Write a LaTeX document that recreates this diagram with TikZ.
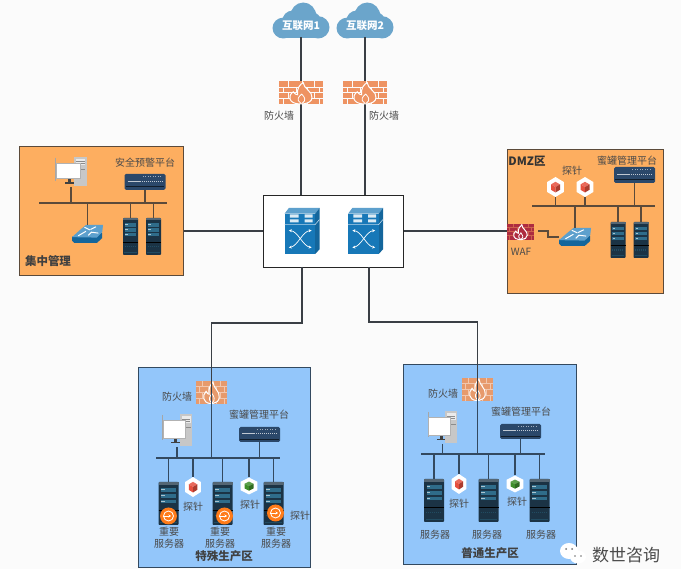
\documentclass[tikz,border=0pt]{standalone}
\usepackage{fontspec}
\setmainfont{Noto Sans CJK SC}
\definecolor{pagebg}{HTML}{FBFBFB}
\definecolor{orz}{HTML}{FDAE60}
\definecolor{orzline}{HTML}{5B4A3A}
\definecolor{blz}{HTML}{93C6FA}
\definecolor{blzline}{HTML}{33495F}
\definecolor{wire}{HTML}{3A3F45}
\definecolor{txt}{HTML}{4A4A4A}
\definecolor{cloudc}{HTML}{6BA5CB}
\definecolor{brickO}{HTML}{EE9362}
\definecolor{brickZ}{HTML}{E79A6C}
\definecolor{brickR}{HTML}{AE2C40}
\definecolor{swblue}{HTML}{1778B8}
\definecolor{srvdark}{HTML}{1B3345}
\definecolor{srvpanel}{HTML}{2F6C8A}
\definecolor{hubc}{HTML}{2B486A}
\definecolor{prR}{HTML}{E5503F}
\definecolor{prG}{HTML}{3F8F2B}
\usetikzlibrary{arrows.meta}
\newcommand{\iconat}[6]{%
  \node[iconspot,minimum width=#5pt,minimum height=#6pt] (#1) at (#3,#4) {};
  \pic[xscale=#5/2,yscale=#6/2] at (#1) {#2};}
\tikzset{
  x=1pt,y=-1pt,
  iconspot/.style={inner sep=0pt,outer sep=0pt,draw=none},
  orzone/.style={draw=orzline,line width=1.3pt,fill=orz,inner sep=0pt,anchor=north west},
  blzone/.style={draw=blzline,line width=1.3pt,fill=blz,inner sep=0pt,anchor=north west},
  corebox/.style={draw=black!85,line width=1.2pt,fill=white,inner sep=0pt,anchor=north west},
  link/.style={draw=wire,line width=1.6pt},
  tap/.style={draw=#1,line width=1.6pt},
  tap/.default=orzline,
  label/.style={text=txt,inner sep=0pt,font=\fontsize{10}{12}\selectfont},
  zonetitle/.style={text=black!75,inner sep=0pt,font=\fontsize{11.5}{13}\selectfont\bfseries},
  pics/cloudicon/.style={code={
    \fill[cloudc] (-.62,.3) rectangle (.62,1);
    \fill[cloudc] (-.62,.42) ellipse [x radius=.38, y radius=.58];
    \fill[cloudc] (.6,.38) ellipse [x radius=.4, y radius=.62];
    \fill[cloudc] (.08,-.22) ellipse [x radius=.46, y radius=.78];
    \fill[cloudc] (-.3,.05) ellipse [x radius=.36, y radius=.6];
    \fill[cloudc] (.4,.05) ellipse [x radius=.3, y radius=.5];}},
  pics/fwicon/.style 2 args={code={
    \fill[#1] (-1,-1) rectangle (1,1);
    \foreach \yy in {-.5,0,.5} \draw[#2,line width=1pt] (-1,\yy) -- (1,\yy);
    \foreach \xx in {-.55,.05,.6} {
      \draw[#2,line width=1pt] (\xx,-1) -- (\xx,-.5);
      \draw[#2,line width=1pt] (\xx,0) -- (\xx,.5);}
    \foreach \xx in {-.8,-.2,.3,.85} {
      \draw[#2,line width=1pt] (\xx,-.5) -- (\xx,0);
      \draw[#2,line width=1pt] (\xx,.5) -- (\xx,1);}
    \draw[white,line width=1pt,fill=#1] (-.1,.95) .. controls (-.55,.9) and (-.62,.25) .. (-.35,-.1)
      .. controls (-.3,.1) and (-.2,.15) .. (-.15,.15)
      .. controls (-.2,-.4) and (-.05,-.75) .. (.1,-.9)
      .. controls (.1,-.4) and (.55,-.1) .. (.5,.4)
      .. controls (.5,.75) and (.3,.9) .. (.1,.95) -- cycle;
    \draw[white,line width=.8pt] (0,.9) .. controls (-.25,.6) and (-.1,.3) .. (.03,.1)
      .. controls (.18,.35) and (.25,.65) .. (0.05,.9);}},
  pics/switchicon/.style={code={
    \fill[swblue!70!white] (-1,-.75) -- (-.75,-1) -- (1,-1) -- (.75,-.75) -- cycle;
    \fill[swblue!85!black] (.75,-.75) -- (1,-1) -- (1,.8) -- (.75,1) -- cycle;
    \fill[swblue] (-1,-.75) rectangle (.75,1);
    \draw[white!70!swblue,line width=.6pt] (-1,-.28) -- (.75,-.28) -- (1,-.5);
    \fill[white!85!swblue] (-.7,-.72) rectangle (-.2,-.58) (.15,-.72) rectangle (.6,-.58)
      (-.7,-.5) rectangle (-.2,-.38) (.15,-.5) rectangle (.6,-.38);
    \draw[white,line width=.7pt,{Stealth[length=3pt,width=3pt]}-{Stealth[length=3pt,width=3pt]}] (-.75,-.02) .. controls (-.25,0) and (.05,.65) .. (.55,.72);
    \draw[white,line width=.7pt,{Stealth[length=3pt,width=3pt]}-{Stealth[length=3pt,width=3pt]}] (.55,-.02) .. controls (.05,0) and (-.25,.65) .. (-.75,.72);}},
  pics/routericon/.style={code={
    \fill[swblue!85!black] (-1,.3) -- (.95,-.1) -- (.95,.45) -- (.6,1) -- (-.85,1) -- (-1,.75) -- cycle;
    \fill[swblue!70!white] (-1,.35) -- (-.45,-.5) -- (-.1,-1) -- (1,-1) -- (.95,-.2) -- (.6,.4) -- cycle;
    \draw[white,line width=1pt] (-.6,.2) -- (-.1,-.3) (.05,.15) -- (.25,-.2) -- (.7,-.1) (-.2,-.75) -- (.15,-.45) (.55,-.8) -- (.2,-.5);}},
  pics/hubicon/.style={code={
    \fill[hubc,rounded corners=1.5pt] (-1,-1) rectangle (1,1);
    \draw[white!70!hubc,line width=.6pt] (-.85,-.1) -- (-.2,-.1);
    \draw[white!70!hubc,line width=.8pt,dash pattern=on 1pt off 1pt] (-.15,-.1) -- (.85,-.1);
    \draw[white!55!hubc,line width=.8pt,dash pattern=on 1pt off 1.5pt] (-.1,-.65) -- (.85,-.65);
    \draw[black!60!hubc,line width=.8pt] (-.95,.6) -- (.95,.6);}},
  pics/pcicon/.style={code={
    \fill[black!22] (.18,-1) rectangle (1,.95);
    \fill[black!8] (.3,-.85) rectangle (.9,-.45);
    \draw[black!45,line width=.5pt] (.32,-.7) -- (.88,-.7) (.32,-.55) -- (.88,-.55) (.3,-.2) -- (.9,-.2);
    \draw[black!35,line width=.6pt] (-1,-.95) -- (-1,.6);
    \fill[black!75] (-.2,.45) rectangle (.0,.7);
    \fill[black!75] (-.4,.68) rectangle (.2,.78);
    \fill[white] (-.95,-.6) rectangle (.55,.45);
    \draw[black!30,line width=.5pt] (-.95,-.6) rectangle (.55,.45);}},
  pics/servericon/.style={code={
    \fill[srvdark,rounded corners=.8pt] (-1,-1) rectangle (1,1);
    \fill[srvdark!75!white] (-1,-1) rectangle (1,-.88);
    \foreach \yy in {-.72,-.45,-.18} {
      \fill[srvpanel] (-.75,\yy) rectangle (.75,\yy+.18);
      \fill[white!60!srvpanel] (-.72,\yy+.05) rectangle (-.4,\yy+.11);}
    \draw[black,line width=.5pt] (-1,.3) -- (1,.3);
    \draw[srvpanel!70!black,line width=1.5pt,dash pattern=on 1pt off 1pt] (-.8,.55) -- (.8,.55);
    \draw[srvpanel!70!black,line width=.5pt] (-.85,.85) -- (.85,.85);}},
  pics/probeicon/.style={code={
    \fill[white] (0,-1) -- (.92,-.5) -- (.92,.5) -- (0,1) -- (-.92,.5) -- (-.92,-.5) -- cycle;
    \fill[#1!85!white] (0,-.52) -- (.5,-.26) -- (0,0) -- (-.5,-.26) -- cycle;
    \fill[#1] (-.5,-.26) -- (0,0) -- (0,.55) -- (-.5,.28) -- cycle;
    \fill[#1!75!black] (.5,-.26) -- (0,0) -- (0,.55) -- (.5,.28) -- cycle;}},
  pics/badgeicon/.style={code={
    \fill[orange!85!red!90!white] (0,0) circle (8.5pt);
    \draw[white,line width=.8pt] (0,0) circle (5pt);
    \draw[white,line width=.8pt,-{Stealth[length=2.5pt,width=3pt]}] (-6pt,0) -- (2.5pt,0);}},
}
\begin{document}
\begin{tikzpicture}
\useasboundingbox (0,0) rectangle (681,569);
\fill[pagebg] (0,0) rectangle (681,569);

% zones
\node[orzone,minimum width=164pt,minimum height=129pt] (mgmt) at (19,146) {};
\node[orzone,minimum width=156pt,minimum height=144pt] (dmz) at (507,149) {};
\node[blzone,minimum width=172pt,minimum height=200pt] (special) at (138,367) {};
\node[blzone,minimum width=173pt,minimum height=200pt] (normal) at (403,364) {};
\node[corebox,minimum width=140pt,minimum height=72pt] (core) at (263,195) {};

% bus anchors
\coordinate (busM) at (39,203);  \coordinate (busME) at (167,203);
\coordinate (busD) at (532,206); \coordinate (busDE) at (655,206);
\coordinate (busS) at (156,458); \coordinate (busSE) at (280,458);
\coordinate (busN) at (421,454); \coordinate (busNE) at (545,454);

% icon spots and top tier
\iconat{cloudA}{cloudicon}{301}{20.5}{57}{36}
\iconat{cloudB}{cloudicon}{365}{20.5}{57}{36}
\coordinate (coreA) at (302,267);
\coordinate (coreB) at (369,267);
\coordinate (coreTopA) at (301,195);
\coordinate (coreTopB) at (365,195);

\draw[link] (cloudA.south) ++(0,-1) -- (coreTopA);
\draw[link] (cloudB.south) ++(0,-1) -- (coreTopB);
\draw[link] (mgmt.east |- 0,231) -- (core.west |- 0,231);
\draw[link] (core.east |- 0,231) -- (507,231);

\iconat{fwA}{fwicon={brickO}{pagebg}}{301}{93}{44}{23}
\iconat{fwB}{fwicon={brickO}{pagebg}}{365}{93}{44}{23}
\iconat{swA}{switchicon}{302}{231}{35}{46}
\iconat{swB}{switchicon}{365.5}{231}{35}{46}

% management zone
\draw[tap] (busM) -- (busME);
\iconat{mPc}{pcicon}{71}{172}{32}{30}
\iconat{mHub}{hubicon}{145}{182}{41}{16}
\iconat{mRt}{routericon}{87.5}{234}{31}{18}
\iconat{mSrvA}{servericon}{130.5}{236.5}{15}{37}
\iconat{mSrvB}{servericon}{153.5}{236.5}{15}{37}
\draw[tap] (mPc.south) -- (mPc.south |- busM);
\draw[tap] (mHub.south) -- (mHub.south |- busM);
\draw[tap] (mRt.north) -- (mRt.north |- busM);
\draw[tap] (mSrvA.north) -- (mSrvA.north |- busM);
\draw[tap] (mSrvB.north) -- (mSrvB.north |- busM);

% DMZ
\draw[tap] (busD) -- (busDE);
\iconat{dHub}{hubicon}{634.5}{175}{41}{16}
\iconat{dPrA}{probeicon={prR}}{555.5}{187}{18}{20}
\iconat{dPrB}{probeicon={prR}}{585}{187}{18}{20}
\iconat{dRt}{routericon}{575}{237}{32}{18}
\iconat{dSrvA}{servericon}{618}{240}{15}{36}
\iconat{dSrvB}{servericon}{641}{240}{15}{36}
\iconat{waf}{fwicon={brickR}{orz!40!brickR}}{520.5}{232}{27}{16}
\draw[tap] (dHub.south) -- (dHub.south |- busD);
\draw[tap] (dPrA.south) -- (dPrA.south |- busD);
\draw[tap] (dPrB.south) -- (dPrB.south |- busD);
\draw[tap] (dRt.north) -- (dRt.north |- busD);
\draw[tap] (dSrvA.north) -- (dSrvA.north |- busD);
\draw[tap] (dSrvB.north) -- (dSrvB.north |- busD);
\coordinate (wafOut) at (538,231);
\coordinate (rtIn) at (559,237);
\draw[orzline,line width=1.1pt] (wafOut) -- (548,231) -- (548,237) -- (rtIn);

% special production zone
\iconat{sFw}{fwicon={brickZ}{brickZ!55!white}}{211.5}{392.5}{31}{23}
\draw[link] (coreA) -- ++(0,56) -| (sFw.center);
\draw[tap=blzline] (busS) -- (busSE);
\draw[tap=blzline] (sFw.center) -- (sFw.center |- busS);
\iconat{sPc}{pcicon}{177}{430.5}{30}{33}
\iconat{sHub}{hubicon}{259.5}{434.5}{41}{15}
\iconat{sSrvA}{servericon}{168.5}{503.5}{20}{43}
\iconat{sSrvB}{servericon}{222.5}{503.5}{20}{43}
\iconat{sSrvC}{servericon}{273.5}{503.5}{20}{43}
\iconat{sPrA}{probeicon={prR}}{193}{487}{17}{20}
\iconat{sPrB}{probeicon={prG}}{249}{486}{18}{17}
\draw[tap=blzline] (sPc.south) ++(0,0) -- (sPc.south |- busS);
\draw[tap=blzline] (sHub.south) -- (sHub.south |- busS);
\draw[tap=blzline] (sSrvA.north) -- (sSrvA.north |- busS);
\draw[tap=blzline] (sSrvB.north) -- (sSrvB.north |- busS);
\draw[tap=blzline] (sSrvC.north) -- (sSrvC.north |- busS);
\draw[tap=blzline] (sPrA.north) -- (sPrA.north |- busS);
\draw[tap=blzline] (sPrB.north) -- (sPrB.north |- busS);
\pic at (168.5,516) {badgeicon};
\pic at (224.5,516) {badgeicon};
\pic at (275.5,513) {badgeicon};

% normal production zone
\iconat{nFw}{fwicon={brickZ}{brickZ!55!white}}{477.5}{389.5}{31}{23}
\draw[link] (coreB) -- ++(0,55) -| (nFw.center);
\draw[tap=blzline] (busN) -- (busNE);
\draw[tap=blzline] (nFw.center) -- (nFw.center |- busN);
\iconat{nPc}{pcicon}{442.5}{427.5}{29}{33}
\iconat{nHub}{hubicon}{520.5}{431.5}{41}{15}
\iconat{nSrvA}{servericon}{434}{500.5}{20}{43}
\iconat{nSrvB}{servericon}{488.5}{500.5}{20}{43}
\iconat{nSrvC}{servericon}{539.5}{500.5}{20}{43}
\iconat{nPrA}{probeicon={prR}}{459}{484}{16}{20}
\iconat{nPrB}{probeicon={prG}}{515}{484}{18}{17}
\draw[tap=blzline] (nPc.south) -- (nPc.south |- busN);
\draw[tap=blzline] (nHub.south) -- (nHub.south |- busN);
\draw[tap=blzline] (nSrvA.north) -- (nSrvA.north |- busN);
\draw[tap=blzline] (nSrvB.north) -- (nSrvB.north |- busN);
\draw[tap=blzline] (nSrvC.north) -- (nSrvC.north |- busN);
\draw[tap=blzline] (nPrA.north) -- (nPrA.north |- busN);
\draw[tap=blzline] (nPrB.north) -- (nPrB.north |- busN);

% labels
\node[inner sep=0pt,text=white,font=\fontsize{10.5}{12}\selectfont\bfseries] (tCloudA) at (cloudA) [yshift=-5pt] {互联网1};
\node[inner sep=0pt,text=white,font=\fontsize{10.5}{12}\selectfont\bfseries] (tCloudB) at (cloudB) [yshift=-5pt] {互联网2};
\node[label] (tFwA) at (279,116) {防火墙};
\node[label] (tFwB) at (384,116) {防火墙};
\node[label] (tMgmtHub) at (145,163) {安全预警平台};
\node[zonetitle] (tMgmt) at (48,261) {集中管理};
\node[zonetitle,text=black!80] (tDmz) at (527,161) {DMZ区};
\node[label] (tDmzPr) at (572,171) {探针};
\node[label] (tDmzHub) at (627,161) {蜜罐管理平台};
\node[label] (tWaf) at (521,252) {WAF};
\node[label] (tSFw) at (177,397) {防火墙};
\node[label] (tSHub) at (259,415) {蜜罐管理平台};
\node[label] (tSPrA) at (193,507) {探针};
\node[label] (tSPrB) at (250,505) {探针};
\node[label] (tSPrC) at (300,516) {探针};
\node[label,align=center] (tSSrvA) at (169,538) {重要\\服务器};
\node[label,align=center] (tSSrvB) at (220,538) {重要\\服务器};
\node[label,align=center] (tSSrvC) at (276,538) {重要\\服务器};
\node[zonetitle] (tSpecial) at (224,556) {特殊生产区};
\node[label] (tNFw) at (443,394) {防火墙};
\node[label] (tNHub) at (521,412) {蜜罐管理平台};
\node[label] (tNPrA) at (459,504) {探针};
\node[label] (tNPrB) at (517,502) {探针};
\node[label] (tNSrvA) at (435,535) {服务器};
\node[label] (tNSrvB) at (487,535) {服务器};
\node[label] (tNSrvC) at (541,535) {服务器};
\node[zonetitle] (tNormal) at (490,553) {普通生产区};

% watermark
\fill[white] (569,551) ellipse (9pt and 8pt);
\fill[white] (578,557) ellipse (8pt and 6.5pt);
\fill[black!55] (566,549) circle (1pt) (572,549) circle (1pt) (575,556) circle (.8pt) (581,556) circle (.8pt);
\node[inner sep=0pt,text=black!70,font=\fontsize{17}{20}\selectfont] (mark) at (626,555) {数世咨询};
\end{tikzpicture}
\end{document}
